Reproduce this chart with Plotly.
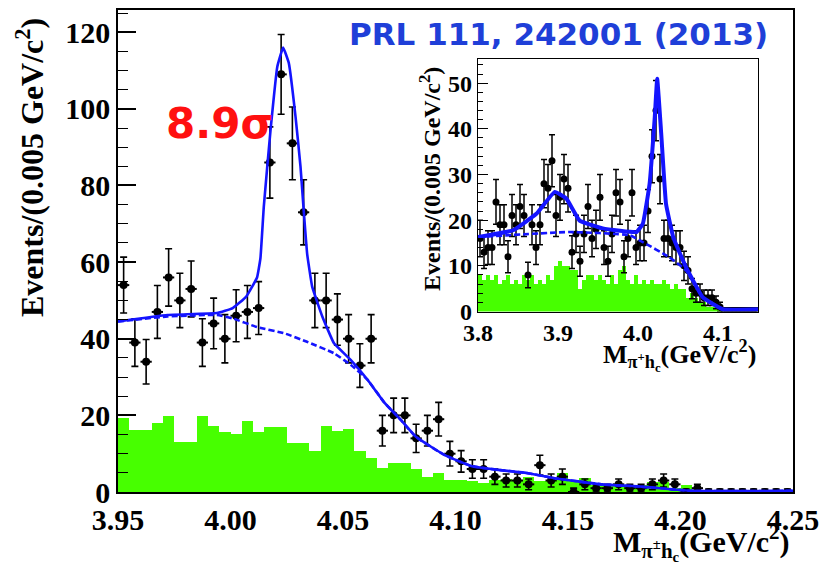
import numpy as np
import plotly.graph_objects as go

# ---------------- main plot data (bins of 0.005 GeV from 3.95) ----------------
main_lo = 3.95
bin_w = 0.005
main_counts = [54, 39, 34, 47, 56, 50, 53, 39, 44, 40,
               46, 47, 48, 86, 109, 91, 73, 50, 50, 45,
               40, 33, 40, 16, 20, 20, 14, 16, 19, 10,
               8, 6, 6, 4, 3, 3, 2, 7, 3, 4,
               0, 2, 1, 1, 2, 1, 1, 2, 3, 2,
               0, 1, 0, 0, 0, 0, 0, 0, 0, 0]
main_err = [7.3, 6.2, 5.8, 6.9, 7.5, 7.1, 7.3, 6.2, 6.6, 6.3,
            6.8, 6.9, 6.9, 9.3, 10.4, 9.5, 8.5, 7.1, 7.1, 6.7,
            6.3, 5.7, 6.3, 4.0, 4.5, 4.5, 3.7, 4.0, 4.4, 3.2,
            2.8, 2.4, 2.4, 2.0, 1.7, 1.7, 1.4, 2.6, 1.7, 2.0,
            1.0, 1.4, 1.0, 1.0, 1.4, 1.0, 1.0, 1.4, 1.7, 1.4,
            0.8, 1.0, 0.8, 0.8, 0.8, 0.8, 0.8, 0.8, 0.8, 0.8]
main_sideband = [19.2, 16.2, 16.2, 17.9, 19.8, 13.0, 13.0, 19.8, 17.1, 15.6,
                 15.1, 18.6, 15.6, 16.9, 16.9, 12.9, 12.9, 10.6, 17.1, 15.8,
                 16.5, 10.8, 8.9, 6.3, 7.6, 7.5, 5.9, 4.0, 4.9, 3.1,
                 3.1, 2.8, 2.3, 3.1, 3.5, 3.1, 4.0, 2.8, 3.1, 5.0,
                 3.1, 3.6, 1.8, 1.8, 2.0, 1.8, 1.8, 2.7, 2.5, 1.0,
                 1.8, 0, 0, 0, 0, 0, 0, 0, 0, 0]
main_fit_x = [3.950, 3.972, 3.994, 4.001, 4.007, 4.0118, 4.0133, 4.0148, 4.0178, 4.0208,
              4.0234, 4.0259, 4.0289, 4.0311, 4.0326, 4.0341, 4.0363, 4.0408, 4.0460, 4.0534,
              4.0609, 4.0683, 4.0757, 4.0824, 4.0950, 4.1069, 4.1173, 4.1322, 4.1441, 4.1649,
              4.1827, 4.205, 4.250]
main_fit_y = [44.5, 46.2, 46.7, 48.0, 51.0, 56.0, 61.0, 74.5, 94.5, 111.0,
              116.0, 112.0, 98.0, 85.0, 73.0, 62.0, 53.6, 45.8, 38.8, 34.5,
              29.3, 23.4, 18.8, 14.4, 9.7, 6.8, 5.9, 4.9, 3.6, 2.0,
              1.4, 0.3, 0.3]
main_bkg_x = [3.950, 3.972, 3.994, 4.001, 4.012, 4.024, 4.034, 4.046, 4.0534, 4.0609,
              4.0683, 4.0757, 4.0824, 4.0950, 4.1069, 4.1173, 4.1322, 4.1441, 4.1649, 4.1827,
              4.205, 4.250]
main_bkg_y = [44.5, 45.8, 46.2, 45.3, 43.0, 41.4, 39.2, 36.2, 33.2, 29.3,
              23.4, 18.8, 14.4, 9.7, 6.8, 5.9, 4.9, 3.6, 2.0, 1.4,
              0.3, 0.3]
main_xticks = [3.95, 4.00, 4.05, 4.10, 4.15, 4.20, 4.25]
main_xtick_text = ["3.95", "4.00", "4.05", "4.10", "4.15", "4.20", "4.25"]
main_yticks = [0, 20, 40, 60, 80, 100, 120]

# ---------------- inset data (bins of 0.005 GeV from 3.80) ----------------
ins_lo = 3.80
ins_counts = [16, 13, 14, 14, 24, 19, 19, 12, 21, 19,
              23, 21, 8, 19, 14, 19, 28, 27, 33, 21,
              25, 29, 27, 13, 17, 11, 17, 23, 16, 18,
              25, 14, 11, 17, 26, 24, 12, 16, 26, 14,
              15, 15, 22, 34, 44, 29, 16, 16, 15, 14,
              14, 10, 9, 5, 4, 4, 3, 3, 3, 2,
              1, 0, 0, 0, 0, 0, 0, 0, 0, 0]
ins_err = [4.0, 3.6, 3.7, 3.7, 4.9, 4.4, 4.4, 3.5, 4.6, 4.4,
           4.8, 4.6, 2.8, 4.4, 3.7, 4.4, 5.3, 5.2, 5.7, 4.6,
           5.0, 5.4, 5.2, 3.6, 4.1, 3.3, 4.1, 4.8, 4.0, 4.2,
           5.0, 3.7, 3.3, 4.1, 5.1, 4.9, 3.5, 4.0, 5.1, 3.7,
           3.9, 3.9, 4.7, 5.8, 6.6, 5.4, 4.0, 4.0, 3.9, 3.7,
           3.7, 3.2, 3.0, 2.2, 2.0, 2.0, 1.7, 1.7, 1.7, 1.4,
           1.0, 0.8, 0.8, 0.8, 0.8, 0.8, 0.8, 0.8, 0.8, 0.8]
ins_sideband = [8, 7, 8, 7, 8, 6, 7, 8, 6, 7,
                6, 8, 7, 8, 6, 7, 6, 8, 7, 10,
                11, 10, 10, 9, 9, 5, 7, 8, 8, 7,
                8, 7, 6, 8, 6, 9, 10, 7, 6, 8,
                6, 7, 6, 7, 6, 6, 7, 6, 5, 6,
                5, 5, 3, 4, 3, 2, 2, 1, 1, 1,
                0.5, 0, 0, 0, 0, 0, 0, 0, 0, 0]
ins_fit_x = [3.800, 3.844, 3.873, 3.896, 3.9106, 3.927, 3.956, 3.998, 4.006, 4.0145,
             4.021, 4.024, 4.029, 4.035, 4.044, 4.060, 4.081, 4.106, 4.150]
ins_fit_y = [16.3, 17.8, 21.4, 26.2, 24.7, 19.9, 18.2, 17.4, 19.2, 28.0,
             42.7, 51.0, 39.0, 23.6, 16.3, 9.7, 3.1, 0.5, 0.5]
ins_bkg_x = [3.800, 3.9147, 3.9895, 4.006, 4.039, 4.060, 4.081, 4.106, 4.150]
ins_bkg_y = [16.3, 17.4, 16.7, 15.2, 11.9, 9.0, 3.1, 0.5, 0.5]
ins_xticks = [3.8, 3.9, 4.0, 4.1]
ins_xtick_text = ["3.8", "3.9", "4.0", "4.1"]
ins_yticks = [0, 10, 20, 30, 40, 50]

main_x = main_lo + bin_w * (np.arange(len(main_counts)) + 0.5)
ins_x = ins_lo + bin_w * (np.arange(len(ins_counts)) + 0.5)

GREEN = "#47ff00"
BLUE = "#1414ff"
SERIF = "Liberation Serif"

fig = go.Figure()

# main plot
fig.add_trace(go.Bar(x=main_x, y=main_sideband, width=bin_w, marker=dict(color=GREEN, line=dict(width=0)),
                     xaxis="x", yaxis="y", showlegend=False))
fig.add_trace(go.Scatter(x=main_x, y=main_counts, mode="markers",
                         marker=dict(color="black", size=8),
                         error_y=dict(type="data", array=main_err, color="black", thickness=1.6, width=3.5),
                         error_x=dict(type="constant", value=bin_w / 2, color="black", thickness=2, width=0),
                         xaxis="x", yaxis="y", showlegend=False))
fig.add_trace(go.Scatter(x=main_bkg_x, y=main_bkg_y, mode="lines",
                         line=dict(color=BLUE, width=2.6, dash="6px,3px", shape="spline", smoothing=0.4),
                         xaxis="x", yaxis="y", showlegend=False))
fig.add_trace(go.Scatter(x=main_fit_x, y=main_fit_y, mode="lines",
                         line=dict(color=BLUE, width=2.6, shape="spline", smoothing=0.3),
                         xaxis="x", yaxis="y", showlegend=False))

# inset
fig.add_trace(go.Bar(x=ins_x, y=ins_sideband, width=bin_w, marker=dict(color=GREEN, line=dict(width=0)),
                     xaxis="x2", yaxis="y2", showlegend=False))
fig.add_trace(go.Scatter(x=ins_x, y=ins_counts, mode="markers",
                         marker=dict(color="black", size=7),
                         error_y=dict(type="data", array=ins_err, color="black", thickness=1.5, width=3),
                         xaxis="x2", yaxis="y2", showlegend=False))
fig.add_trace(go.Scatter(x=ins_bkg_x, y=ins_bkg_y, mode="lines",
                         line=dict(color=BLUE, width=2.6, dash="6px,3px", shape="spline", smoothing=0.4),
                         xaxis="x2", yaxis="y2", showlegend=False))
fig.add_trace(go.Scatter(x=ins_fit_x, y=ins_fit_y, mode="lines",
                         line=dict(color=BLUE, width=4, shape="spline", smoothing=0.3),
                         xaxis="x2", yaxis="y2", showlegend=False))

W, H = 823, 567

def px(xp):
    return xp / W

def py(yp):
    return 1 - yp / H

tickfont_main = dict(family=SERIF, size=30, color="black", weight="bold")
tickfont_ins = dict(family=SERIF, size=24, color="black", weight="bold")

fig.update_layout(
    width=W, height=H, margin=dict(l=0, r=0, t=0, b=0, autoexpand=False),
    paper_bgcolor="white", plot_bgcolor="rgba(0,0,0,0)",
    bargap=0, barmode="overlay",
    xaxis=dict(domain=[px(118), px(793)], range=[3.95, 4.25], anchor="y", automargin=False,
               tickvals=main_xticks, ticktext=main_xtick_text, tickfont=tickfont_main,
               showline=True, linecolor="black", linewidth=1.5, mirror=True,
               ticks="", showgrid=False, zeroline=False),
    yaxis=dict(domain=[py(492), py(10)], range=[0, 125.8], anchor="x", automargin=False,
               tickvals=main_yticks, tickfont=tickfont_main,
               showline=True, linecolor="black", linewidth=1.5, mirror=True,
               ticks="inside", ticklen=18, tickwidth=1.5, tickcolor="black",
               minor=dict(dtick=5, ticks="inside", ticklen=10, tickwidth=1.2, tickcolor="black"),
               showgrid=False, zeroline=False),
    xaxis2=dict(domain=[px(478), px(758)], range=[3.8, 4.15], anchor="y2", automargin=False,
                tickvals=ins_xticks, ticktext=ins_xtick_text, tickfont=tickfont_ins,
                showline=True, linecolor="black", linewidth=1.3, mirror=True,
                ticks="", showgrid=False, zeroline=False),
    yaxis2=dict(domain=[py(311.5), py(59)], range=[0, 55.3], anchor="x2", automargin=False,
                tickvals=ins_yticks, tickfont=tickfont_ins,
                showline=True, linecolor="black", linewidth=1.3, mirror=True,
                ticks="inside", ticklen=10, tickwidth=1.3, tickcolor="black",
                minor=dict(dtick=2, ticks="inside", ticklen=5, tickwidth=1, tickcolor="black"),
                showgrid=False, zeroline=False),
    annotations=[
        dict(text="<b>PRL 111, 242001 (2013)</b>", x=px(558), y=py(34), xref="paper", yref="paper",
             showarrow=False, xanchor="center", yanchor="middle",
             font=dict(family="DejaVu Sans", size=31, color="#1f3fd8")),
        dict(text="<b>8.9σ</b>", x=px(219), y=py(123), xref="paper", yref="paper",
             showarrow=False, xanchor="center", yanchor="middle",
             font=dict(family="DejaVu Sans", size=42, color="#ff1010")),
        dict(text="<b>Events/(0.005 GeV/c<sup>2</sup>)</b>", x=px(30), y=py(168), xref="paper", yref="paper",
             showarrow=False, xanchor="center", yanchor="middle", textangle=-90,
             font=dict(family=SERIF, size=32, color="black")),
        dict(text="<b>M<sub>π<sup>±</sup>h<sub>c</sub></sub>(GeV/c<sup>2</sup>)</b>", x=px(792), y=py(542),
             xref="paper", yref="paper", showarrow=False, xanchor="right", yanchor="middle",
             font=dict(family=SERIF, size=30, color="black")),
        dict(text="<b>Events/(0.005 GeV/c<sup>2</sup>)</b>", x=px(430), y=py(179), xref="paper", yref="paper",
             showarrow=False, xanchor="center", yanchor="middle", textangle=-90,
             font=dict(family=SERIF, size=24, color="black")),
        dict(text="<b>M<sub>π<sup>+</sup>h<sub>c</sub></sub>(GeV/c<sup>2</sup>)</b>", x=px(758), y=py(355),
             xref="paper", yref="paper", showarrow=False, xanchor="right", yanchor="middle",
             font=dict(family=SERIF, size=26, color="black")),
    ],
)

fig.write_html("out.html")
